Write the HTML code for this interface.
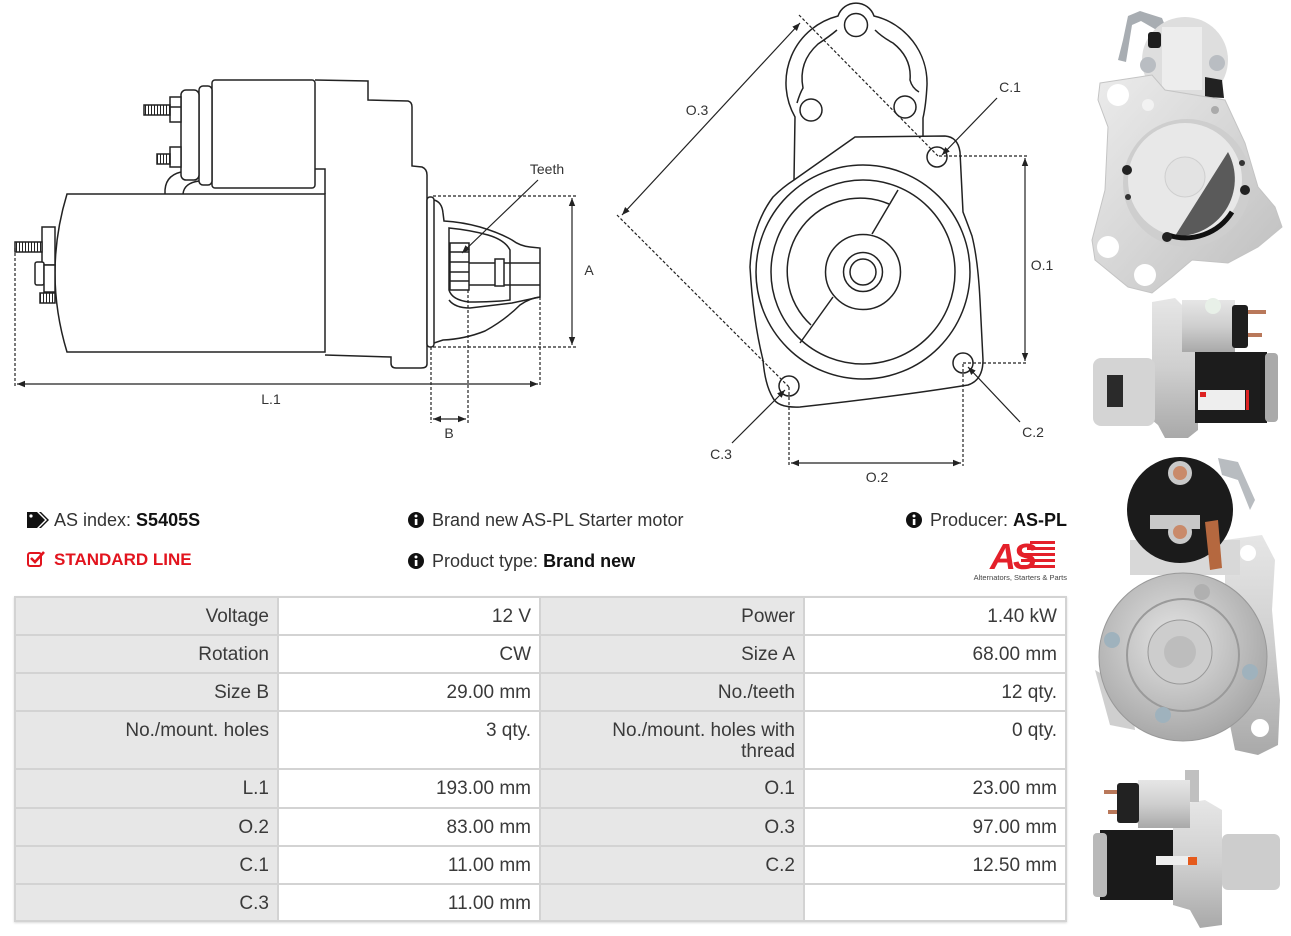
<!DOCTYPE html>
<html><head><meta charset="utf-8"><style>
html,body{margin:0;padding:0;background:#fff;}
body{width:1291px;height:936px;position:relative;overflow:hidden;font-family:"Liberation Sans",Arial,sans-serif;color:#333;}
.t{position:absolute;white-space:nowrap;font-size:18px;line-height:22px;color:#333;}
.tb{position:absolute;left:14px;top:596px;width:1053px;height:326px;background:#d3d3d3;box-shadow:0 1px 2px rgba(0,0,0,0.15);}
.c{position:absolute;box-sizing:border-box;padding:8px 8px 0 0;text-align:right;font-size:19px;line-height:21px;color:#3a3a3a;}
.l{background:#e7e7e7;}
.v{background:#fff;}
</style></head><body>

<svg width="1291" height="936" style="position:absolute;left:0;top:0" xmlns="http://www.w3.org/2000/svg">
<defs>
<marker id="ah" viewBox="0 0 10 10" refX="10" refY="5" markerWidth="8" markerHeight="8" orient="auto-start-reverse" markerUnits="userSpaceOnUse"><path d="M0,1 L10,5 L0,9 z" fill="#222"/></marker>
<pattern id="thr" width="3" height="12" patternUnits="userSpaceOnUse"><rect width="3" height="12" fill="#fff"/><line x1="1.5" y1="0" x2="1.5" y2="12" stroke="#222" stroke-width="1"/></pattern>
<linearGradient id="sil" x1="0" y1="0" x2="1" y2="1"><stop offset="0" stop-color="#ececec"/><stop offset="0.5" stop-color="#d6d6d6"/><stop offset="1" stop-color="#bdbdbd"/></linearGradient>
<linearGradient id="silv" x1="0" y1="0" x2="0" y2="1"><stop offset="0" stop-color="#e6e6e6"/><stop offset="0.5" stop-color="#cfcfcf"/><stop offset="1" stop-color="#a9a9a9"/></linearGradient>
<radialGradient id="disc" cx="0.45" cy="0.4" r="0.6"><stop offset="0" stop-color="#e4e4e4"/><stop offset="1" stop-color="#a8a8a8"/></radialGradient>
</defs>

<!-- LEFT DIAGRAM -->
<g stroke="#222" fill="none" stroke-width="1.5">
<path d="M67,194 L325,194 L325,352 L67,352 Q43,273 67,194 Z" fill="#fff"/>
<path d="M315,80 L368,81 L368,100 L408,101 Q412,102 412,107 L412,166 L422,167 Q427,169 427,175 L427,364 Q427,368 421,368 L396,368 Q391,368 391,363 L391,357 L325,355"/>
<path d="M315,169 L325,169 L325,194"/>
<rect x="212" y="80" width="103" height="108" rx="3" fill="#fff"/>
<rect x="199" y="86" width="13" height="99" rx="4" fill="#fff"/>
<rect x="181" y="90" width="18" height="90" rx="5" fill="#fff"/>
<rect x="170" y="97" width="11" height="25" fill="#fff"/>
<line x1="170" y1="107" x2="181" y2="107"/>
<rect x="144" y="105" width="26" height="10" fill="url(#thr)"/>
<rect x="170" y="147" width="11" height="20" fill="#fff"/>
<rect x="157" y="154" width="13" height="10" fill="url(#thr)"/>
<path d="M165,194 Q164,176 181,172"/>
<path d="M183,194 Q184,183 199,181"/>
<rect x="42" y="227" width="13" height="38" fill="#fff"/>
<rect x="15" y="242" width="27" height="10" fill="url(#thr)"/>
<rect x="35" y="262" width="9" height="23" rx="2" fill="#fff"/>
<rect x="44" y="265" width="11" height="27" fill="#fff"/>
<rect x="40" y="293" width="15" height="10" fill="url(#thr)"/>
<rect x="427" y="197" width="7" height="150" rx="3" fill="#fff"/>
<path d="M434,200 Q442,202 443,213 L444,221 Q462,222 480,227 Q500,233 512,240 Q520,246 530,247 L540,248 L540,297 Q530,298 520,305 Q505,320 485,331 Q465,339 443,340 L434,343"/>
<path d="M449,228 Q470,230 488,235 Q505,240 510,250 L510,300 Q495,302 469,302 Q452,300 449,290 Z"/>
<path d="M449,300 Q455,308 470,308 Q495,305 512,303 L540,297"/>
<rect x="450" y="243" width="19" height="47" fill="#fff"/>
<path d="M450,252 H469 M450,262 H469 M450,272 H469 M450,281 H469"/>
<path d="M469,263 H540 M469,285 H540"/>
<rect x="495" y="259" width="9" height="27" fill="#fff"/>
</g>
<g stroke="#222" fill="none" stroke-width="1.2">
<line x1="538" y1="180" x2="462" y2="253" marker-end="url(#ah)"/>
<g stroke-dasharray="3 2">
<path d="M433,196 H577 M433,347 H577"/>
<path d="M15,248 V387 M540,297 V387"/>
<path d="M431,347 V423 M468,290 V423"/>
</g>
<line x1="572" y1="198" x2="572" y2="345" marker-start="url(#ah)" marker-end="url(#ah)"/>
<line x1="17" y1="384" x2="538" y2="384" marker-start="url(#ah)" marker-end="url(#ah)"/>
<line x1="433" y1="419" x2="466" y2="419" marker-start="url(#ah)" marker-end="url(#ah)"/>
</g>
<g font-family="Liberation Sans, Arial, sans-serif" font-size="14" fill="#333" text-anchor="middle" dominant-baseline="central">
<text x="547" y="169">Teeth</text>
<text x="589" y="270">A</text>
<text x="271" y="399">L.1</text>
<text x="449" y="433">B</text>
</g>

<!-- MIDDLE DIAGRAM -->
<g stroke="#222" fill="none" stroke-width="1.5">
<path d="M794,180 L795,117 A69,69 0 0 1 838,16 A19,19 0 0 1 874,16 A69,69 0 0 1 927,85 Q926,105 923,118 L923,137"/>
<path d="M797,103 Q800,93 803,88 Q798,62 818,44 Q830,36 837,30"/>
<path d="M875,30 Q882,37 893,43 Q912,58 910,80 Q912,88 919,92"/>
<circle cx="856" cy="25" r="11.5"/>
<circle cx="811" cy="110" r="11"/>
<circle cx="905" cy="107" r="11"/>
<path d="M794,180 L855,137 L945,136 Q958,137 960,152 L963,212 Q968,225 972,236 Q978,260 980,300 L983,360 Q983,380 968,385 Q900,396 800,407 Q778,408 773,398 Q765,385 763,360 Q753,320 750,267 Q752,225 773,197 Q783,187 794,180"/>
<circle cx="863" cy="272" r="107"/>
<circle cx="863" cy="272" r="92"/>
<path d="M889,204 A73,73 0 0 0 811,325"/>
<circle cx="863" cy="272" r="37.5"/>
<circle cx="863" cy="272" r="19.5"/>
<circle cx="863" cy="272" r="13"/>
<line x1="898" y1="190" x2="872" y2="234"/>
<line x1="833" y1="297" x2="800" y2="343"/>
<circle cx="937" cy="157" r="10"/>
<circle cx="963" cy="363" r="10"/>
<circle cx="789" cy="386" r="10"/>
</g>
<g stroke="#222" fill="none" stroke-width="1.2">
<g stroke-dasharray="3 2">
<path d="M799,15 L938,156"/>
<path d="M617,215 L789,387"/>
<path d="M939,156 H1028 M963,363 H1028"/>
<path d="M789,387 V466 M963,364 V466"/>
</g>
<line x1="800" y1="23" x2="622" y2="215" marker-start="url(#ah)" marker-end="url(#ah)"/>
<line x1="1025" y1="158" x2="1025" y2="361" marker-start="url(#ah)" marker-end="url(#ah)"/>
<line x1="791" y1="463" x2="961" y2="463" marker-start="url(#ah)" marker-end="url(#ah)"/>
<line x1="997" y1="98" x2="942" y2="155" marker-end="url(#ah)"/>
<line x1="1020" y1="422" x2="968" y2="367" marker-end="url(#ah)"/>
<line x1="732" y1="443" x2="785" y2="390" marker-end="url(#ah)"/>
</g>
<g font-family="Liberation Sans, Arial, sans-serif" font-size="14" fill="#333" text-anchor="middle" dominant-baseline="central">
<text x="697" y="110">O.3</text>
<text x="1010" y="87">C.1</text>
<text x="1042" y="265">O.1</text>
<text x="1033" y="432">C.2</text>
<text x="721" y="454">C.3</text>
<text x="877" y="477">O.2</text>
</g>

<!-- PHOTO 1 -->
<g>
<path d="M1118,60 L1123,40 L1128,16 L1140,11 L1162,18 L1166,28 L1160,32 L1141,21 L1132,25 L1126,62 Z" fill="#a8adb2"/>
<circle cx="1185" cy="60" r="43" fill="#dedede"/>
<rect x="1162" y="27" width="40" height="63" fill="#ededed"/>
<path d="M1205,77 L1222,80 L1224,98 L1205,97 Z" fill="#222"/>
<rect x="1148" y="32" width="13" height="16" rx="3" fill="#1e1e1e"/>
<path d="M1100,83 L1152,75 L1165,90 L1225,100 L1245,143 L1258,187 L1275,207 L1282,227 L1258,247 L1228,263 L1192,260 L1172,277 L1152,293 L1128,287 L1095,260 L1092,240 L1105,190 L1108,127 L1098,100 Z" fill="url(#sil)" stroke="#c4c4c4"/>
<circle cx="1118" cy="95" r="11" fill="#fff"/>
<circle cx="1108" cy="247" r="11" fill="#fff"/>
<circle cx="1145" cy="275" r="11" fill="#fff"/>
<circle cx="1148" cy="105" r="6" fill="#f2f2f2"/>
<circle cx="1187" cy="183" r="64" fill="#cecece"/>
<circle cx="1185" cy="180" r="57" fill="#e8e8e8"/>
<path d="M1228,152 A57,57 0 0 1 1175,236 Z" fill="#5a5a5a"/>
<path d="M1232,212 A55,55 0 0 1 1168,235" fill="none" stroke="#111" stroke-width="5"/>
<circle cx="1185" cy="177" r="20" fill="#e3e3e3" stroke="#cfcfcf"/>
<circle cx="1148" cy="65" r="8" fill="#b9bdc2"/>
<circle cx="1217" cy="63" r="8" fill="#b9bdc2"/>
<circle cx="1127" cy="170" r="5" fill="#222"/>
<circle cx="1128" cy="197" r="3" fill="#333"/>
<circle cx="1167" cy="237" r="5" fill="#222"/>
<circle cx="1245" cy="190" r="5" fill="#222"/>
<circle cx="1242" cy="163" r="3" fill="#333"/>
<circle cx="1215" cy="110" r="4" fill="#aaa"/>
</g>

<!-- PHOTO 2 -->
<g>
<path d="M1152,302 L1175,298 L1182,305 L1198,310 L1198,430 L1188,438 L1165,438 L1158,425 L1152,420 Z" fill="url(#silv)"/>
<rect x="1093" y="358" width="62" height="68" rx="8" fill="#d4d4d4"/>
<rect x="1107" y="375" width="16" height="32" fill="#2a2a2a"/>
<rect x="1182" y="300" width="53" height="52" fill="url(#silv)"/>
<circle cx="1213" cy="306" r="8" fill="#e8f0e8"/>
<rect x="1232" y="305" width="16" height="43" rx="3" fill="#1e1e1e"/>
<rect x="1248" y="310" width="18" height="4" fill="#b9785a"/>
<rect x="1248" y="333" width="14" height="4" fill="#b9785a"/>
<rect x="1195" y="352" width="72" height="71" fill="#1c1c1c"/>
<rect x="1265" y="353" width="13" height="69" rx="4" fill="#aaa"/>
<rect x="1198" y="390" width="47" height="20" fill="#eeeeee"/>
<rect x="1200" y="392" width="6" height="5" fill="#d22"/>
<rect x="1246" y="390" width="3" height="20" fill="#d22"/>
</g>

<!-- PHOTO 3 -->
<g>
<path d="M1225,540 L1262,535 L1275,560 L1272,610 L1280,700 L1278,745 L1258,755 L1235,750 L1225,700 Z" fill="url(#silv)"/>
<circle cx="1248" cy="553" r="8" fill="#fff"/>
<circle cx="1260" cy="728" r="9" fill="#fff"/>
<path d="M1095,670 L1130,690 L1135,730 L1110,725 Z" fill="#cfcfcf"/>
<path d="M1130,540 L1240,540 L1240,575 L1130,575 Z" fill="#d8d8d8"/>
<circle cx="1180" cy="510" r="53" fill="#1b1b1b"/>
<path d="M1218,458 L1238,462 L1255,500 L1250,510 L1238,480 L1222,475 Z" fill="#b8bcc0"/>
<rect x="1150" y="515" width="50" height="14" fill="#c8c8c8"/>
<circle cx="1180" cy="473" r="12" fill="#c9c9c9"/>
<circle cx="1180" cy="473" r="7" fill="#c98a6a"/>
<circle cx="1180" cy="532" r="12" fill="#c9c9c9"/>
<circle cx="1180" cy="532" r="7" fill="#c98a6a"/>
<path d="M1205,522 L1218,520 L1222,568 L1210,570 Z" fill="#b5683f"/>
<circle cx="1183" cy="657" r="84" fill="url(#disc)" stroke="#999" stroke-width="1"/>
<circle cx="1183" cy="655" r="56" fill="none" stroke="#9a9a9a" stroke-width="2"/>
<circle cx="1180" cy="652" r="32" fill="#cdcdcd" stroke="#999"/>
<circle cx="1180" cy="652" r="16" fill="#bdbdbd"/>
<circle cx="1112" cy="640" r="8" fill="#9fb2bd"/>
<circle cx="1250" cy="672" r="8" fill="#9fb2bd"/>
<circle cx="1163" cy="715" r="8" fill="#9fb2bd"/>
<circle cx="1202" cy="592" r="8" fill="#b0b0b0"/>
</g>

<!-- PHOTO 4 -->
<g>
<path d="M1173,805 L1205,800 L1222,810 L1222,925 L1200,928 L1190,910 L1173,905 Z" fill="url(#silv)"/>
<rect x="1185" y="770" width="14" height="32" fill="#c0c0c0"/>
<rect x="1138" y="780" width="52" height="48" fill="url(#silv)"/>
<rect x="1117" y="783" width="22" height="40" rx="3" fill="#222"/>
<rect x="1104" y="790" width="13" height="4" fill="#b9785a"/>
<rect x="1108" y="810" width="9" height="4" fill="#b9785a"/>
<rect x="1222" y="834" width="58" height="56" rx="6" fill="#cdcdcd"/>
<rect x="1100" y="830" width="73" height="70" fill="#1a1a1a"/>
<rect x="1093" y="833" width="14" height="64" rx="4" fill="#b9b9b9"/>
<rect x="1156" y="856" width="34" height="9" fill="#eee"/>
<rect x="1188" y="857" width="9" height="8" fill="#e55a1c"/>
</g>

<!-- ICONS -->
<g>
<path d="M27,512 L37,512 L45,520 L37,528 L27,528 Z" fill="#111"/>
<circle cx="31" cy="516" r="1.6" fill="#fff"/>
<path d="M39,512 L41,512 L49,520 L41,528 L39,528 L47,520 Z" fill="#111"/>
<rect x="28" y="553" width="13" height="13" rx="2" fill="none" stroke="#e2141e" stroke-width="2"/>
<path d="M31,558 L35,562 L44,552" fill="none" stroke="#e2141e" stroke-width="2.6"/>
<g>
<circle cx="416" cy="520" r="8" fill="#111"/><rect x="414.8" y="519" width="2.6" height="6" fill="#fff"/><circle cx="416" cy="516" r="1.5" fill="#fff"/>
<circle cx="416" cy="561" r="8" fill="#111"/><rect x="414.8" y="560" width="2.6" height="6" fill="#fff"/><circle cx="416" cy="557" r="1.5" fill="#fff"/>
<circle cx="914" cy="520" r="8" fill="#111"/><rect x="912.8" y="519" width="2.6" height="6" fill="#fff"/><circle cx="914" cy="516" r="1.5" fill="#fff"/>
</g>
<g fill="#e4202a">
<rect x="1030" y="541" width="25" height="3"/>
<rect x="1027" y="547" width="28" height="3"/>
<rect x="1024" y="553" width="31" height="3"/>
<rect x="1021" y="559" width="34" height="3"/>
<rect x="1018" y="565" width="37" height="3"/>
<text x="1012" y="569" font-family="Liberation Sans, Arial, sans-serif" font-size="36" font-weight="bold" font-style="italic" text-anchor="middle" letter-spacing="-3">AS</text>
</g>
<text x="1067" y="580" font-family="Liberation Sans, Arial, sans-serif" font-size="7.5" fill="#444" text-anchor="end">Alternators, Starters &amp; Parts</text>
</g>
</svg>

<div class="t" style="left:54px;top:509px;">AS index: <b style="color:#111">S5405S</b></div>
<div class="t" style="left:54px;top:549px;font-size:17px;font-weight:bold;color:#e2141e;">STANDARD LINE</div>
<div class="t" style="left:432px;top:509px;">Brand new AS-PL Starter motor</div>
<div class="t" style="left:432px;top:550px;">Product type: <b style="color:#111">Brand new</b></div>
<div class="t" style="right:224px;top:509px;">Producer: <b style="color:#111">AS-PL</b></div>

<div class="tb"></div>
<div class="c l" style="left:16px;top:598px;width:261px;height:36px;">Voltage</div>
<div class="c v" style="left:279px;top:598px;width:260px;height:36px;">12 V</div>
<div class="c l" style="left:541px;top:598px;width:262px;height:36px;">Power</div>
<div class="c v" style="left:805px;top:598px;width:260px;height:36px;">1.40 kW</div>
<div class="c l" style="left:16px;top:636px;width:261px;height:36px;">Rotation</div>
<div class="c v" style="left:279px;top:636px;width:260px;height:36px;">CW</div>
<div class="c l" style="left:541px;top:636px;width:262px;height:36px;">Size A</div>
<div class="c v" style="left:805px;top:636px;width:260px;height:36px;">68.00 mm</div>
<div class="c l" style="left:16px;top:674px;width:261px;height:36px;">Size B</div>
<div class="c v" style="left:279px;top:674px;width:260px;height:36px;">29.00 mm</div>
<div class="c l" style="left:541px;top:674px;width:262px;height:36px;">No./teeth</div>
<div class="c v" style="left:805px;top:674px;width:260px;height:36px;">12 qty.</div>
<div class="c l" style="left:16px;top:712px;width:261px;height:56px;">No./mount. holes</div>
<div class="c v" style="left:279px;top:712px;width:260px;height:56px;">3 qty.</div>
<div class="c l" style="left:541px;top:712px;width:262px;height:56px;">No./mount. holes with<br>thread</div>
<div class="c v" style="left:805px;top:712px;width:260px;height:56px;">0 qty.</div>
<div class="c l" style="left:16px;top:770px;width:261px;height:37px;">L.1</div>
<div class="c v" style="left:279px;top:770px;width:260px;height:37px;">193.00 mm</div>
<div class="c l" style="left:541px;top:770px;width:262px;height:37px;">O.1</div>
<div class="c v" style="left:805px;top:770px;width:260px;height:37px;">23.00 mm</div>
<div class="c l" style="left:16px;top:809px;width:261px;height:36px;">O.2</div>
<div class="c v" style="left:279px;top:809px;width:260px;height:36px;">83.00 mm</div>
<div class="c l" style="left:541px;top:809px;width:262px;height:36px;">O.3</div>
<div class="c v" style="left:805px;top:809px;width:260px;height:36px;">97.00 mm</div>
<div class="c l" style="left:16px;top:847px;width:261px;height:36px;">C.1</div>
<div class="c v" style="left:279px;top:847px;width:260px;height:36px;">11.00 mm</div>
<div class="c l" style="left:541px;top:847px;width:262px;height:36px;">C.2</div>
<div class="c v" style="left:805px;top:847px;width:260px;height:36px;">12.50 mm</div>
<div class="c l" style="left:16px;top:885px;width:261px;height:35px;">C.3</div>
<div class="c v" style="left:279px;top:885px;width:260px;height:35px;">11.00 mm</div>
<div class="c l" style="left:541px;top:885px;width:262px;height:35px;"></div>
<div class="c v" style="left:805px;top:885px;width:260px;height:35px;"></div>

</body></html>
